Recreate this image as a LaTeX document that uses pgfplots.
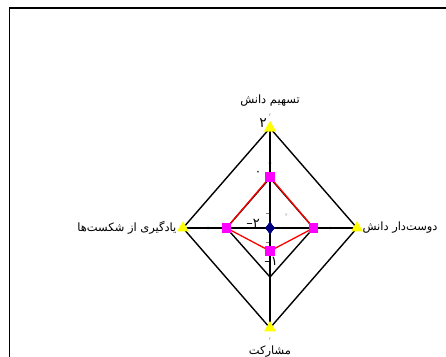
\documentclass[border=0pt]{standalone}
\usepackage{fontspec}
\setmainfont{DejaVu Sans}
\newfontfamily\fa[Script=Arabic]{DejaVu Sans}
\usepackage{pgfplots}
\pgfplotsset{compat=1.18}
\TeXXeTstate=1
\definecolor{tri}{RGB}{255,255,0}
\definecolor{sq}{RGB}{255,0,255}
\definecolor{ln}{RGB}{255,0,0}
\definecolor{dia}{RGB}{0,0,128}

\begin{document}
\begin{tikzpicture}[x=1bp,y=1bp]
\path[use as bounding box, clip] (0,0) rectangle (446,356);
\fill[white] (0,0) rectangle (446,356);
% chart area frame (cut off on the right and bottom)
\draw[line width=1.4bp] (9.5,-3) -- (9.5,348) -- (452,348);
\begin{axis}[
    at={(270bp,128bp)}, anchor=center,
    x=21.75bp, y=25bp,
    xmin=-5, xmax=5, ymin=-5, ymax=5,
    hide axis, clip=false,
]
% spokes
\addplot[black, line width=1.2bp, no markers] coordinates {(0,4) (0,-4)};
\addplot[black, line width=1.2bp, no markers] coordinates {(-4,0) (4,0)};
% small ticks on the spokes
\addplot[only marks, mark=*, mark size=1bp, black] coordinates {(-2.85,0) (2.8,0) (0,2.6)};
\addplot[only marks, mark=-, mark size=1.6bp, gray] coordinates {(-0.1,0.6) (-0.1,-0.56)};
% series: outer (2,2,2,2), inner (0,0,0,0), red, centre (-2)
\addplot[black, line width=1.4bp, mark=triangle*, mark size=5.5bp,
    mark options={fill=tri, draw=tri}]
    coordinates {(0,4) (4,0) (0,-4) (-4,0) (0,4)};
\addplot[black, line width=1.4bp, no markers]
    coordinates {(0,2) (2,0) (0,-1.96) (-2,0) (0,2)};
\addplot[ln, line width=1.3bp, mark=square*, mark size=4bp,
    mark options={fill=sq, draw=sq}]
    coordinates {(0,2.04) (2.0,0) (0,-0.92) (-2.0,0) (0,2.04)};
\addplot[only marks, mark=diamond*, mark size=5.6bp,
    mark options={fill=dia, draw=dia}]
    coordinates {(0,0) (0,0) (0,0) (0,0)};
% category labels
\node[font=\fontsize{11.5}{13}\fa] at (axis cs:0,5.08) {\beginR تسهیم دانش\endR};
\node[font=\fontsize{11.5}{13}\fa, anchor=west, inner sep=1bp] at (axis cs:4.2,0) {\beginR دوست‌دار دانش\endR};
\node[font=\fontsize{11.5}{13}\fa, anchor=east, inner sep=1bp] at (axis cs:-4.25,0) {\beginR یادگیری از شکست‌ها\endR};
\node[font=\fontsize{11.5}{13}\fa] at (axis cs:0,-4.95) {\beginR مشارکت\endR};
% value labels
\node[font=\fontsize{14}{15}\selectfont] at (axis cs:-0.32,4.2) {۲};
\node[font=\fontsize{12}{13}\selectfont] at (axis cs:-0.55,2.2) {۰};
\node[font=\fontsize{13}{14}\selectfont] at (axis cs:-0.78,0.2) {–۲};
\node[font=\fontsize{13}{14}\selectfont] at (axis cs:0.05,-1.35) {–۱};
\node[font=\fontsize{4}{5}\selectfont, gray] at (axis cs:0,4.5) {۲};
\node[font=\fontsize{4}{5}\selectfont, gray] at (axis cs:0,-4.45) {۲};
\node[font=\fontsize{4}{5}\selectfont, gray] at (axis cs:0.75,0.5) {۲};
\end{axis}
\end{tikzpicture}
\end{document}
